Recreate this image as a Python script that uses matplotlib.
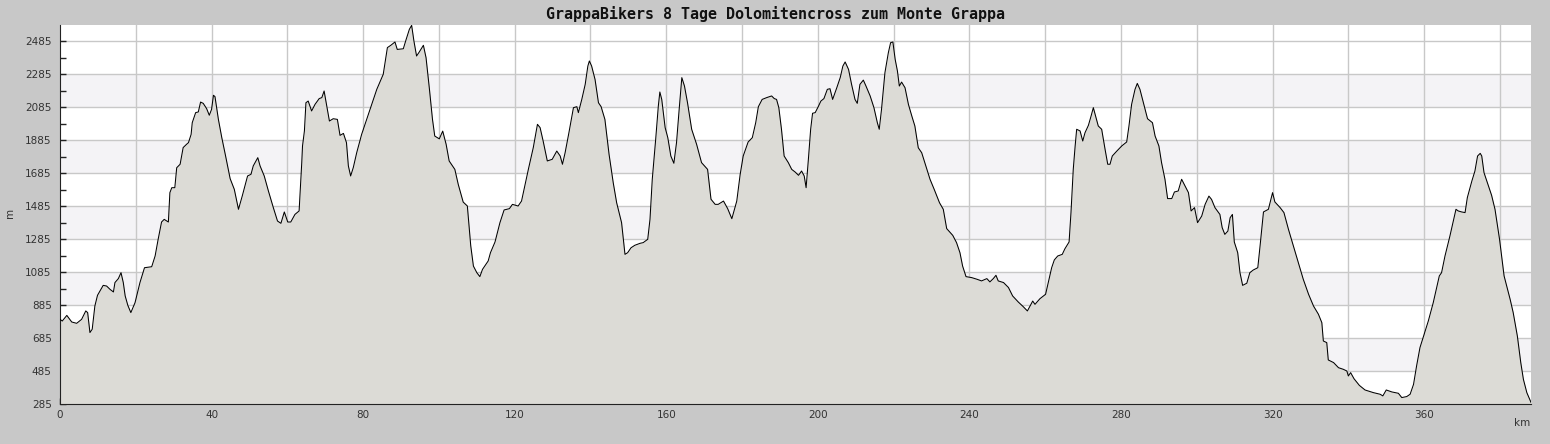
import matplotlib
matplotlib.use('Agg')
import matplotlib.pyplot as plt
from matplotlib.ticker import MultipleLocator

title = 'GrappaBikers 8 Tage Dolomitencross zum Monte Grappa'

# distance in km, altitude in m
km = [0.0, 0.6, 1.8, 3.1, 4.4, 5.7, 6.8, 7.3, 7.9, 8.5, 9.2, 9.9, 11.4, 12.3,
      13.2, 14.1, 14.5, 15.4, 16.1, 16.7, 17.2, 17.9, 18.7, 19.8, 21.1, 22.3,
      24.2, 25.1, 25.9, 26.8, 27.5, 28.6, 29.0, 29.5, 30.3, 30.8, 31.7, 32.5,
      33.4, 33.9, 34.6, 34.9, 35.8, 36.5, 37.1, 37.8, 38.7, 39.4, 40.0, 40.5,
      40.9, 41.8, 42.7, 43.7, 44.9, 46.0, 47.1, 48.1, 49.5, 50.4, 51.0, 52.2,
      52.8, 53.9, 55.0, 56.3, 57.4, 58.3, 59.2, 60.1, 60.9, 62.0, 63.1, 63.8,
      64.0, 64.5, 64.9, 65.5, 66.4, 67.3, 68.4, 69.1, 69.7, 70.4, 71.1, 72.1,
      73.2, 73.9, 74.8, 75.6, 76.1, 76.7, 77.4, 78.3, 79.6, 81.4, 83.6, 85.3,
      86.4, 87.3, 88.4, 89.0, 90.6, 91.3, 92.2, 92.8, 93.4, 94.1, 94.8, 95.9,
      96.6, 97.5, 98.3, 98.9, 100.1, 101.0, 101.9, 102.7, 104.2, 105.1, 106.4,
      107.5, 108.4, 109.1, 110.0, 110.8, 111.5, 113.0, 113.6, 114.8, 116.1,
      117.2, 118.6, 119.4, 120.9, 121.8, 123.6, 124.9, 126.0, 126.7, 127.5,
      128.6, 129.9, 131.1, 132.0, 132.6, 133.3, 134.3, 135.5, 136.4, 136.8,
      137.7, 138.6, 139.3, 139.7, 140.3, 141.2, 142.1, 142.8, 143.8, 144.9,
      146.0, 146.9, 148.2, 149.1, 149.8, 150.7, 151.7, 153.1, 153.9, 155.1,
      155.7, 156.3, 157.2, 157.9, 158.3, 158.8, 159.7, 160.4, 161.2, 162.0,
      162.7, 163.4, 164.1, 164.8, 165.6, 166.7, 168.0, 169.3, 170.9, 171.8,
      172.9, 173.7, 175.1, 176.2, 177.3, 178.6, 179.5, 180.3, 181.6, 182.7,
      183.6, 184.3, 185.3, 186.5, 187.8, 188.5, 189.1, 189.7, 190.4, 191.1,
      192.2, 193.1, 194.0, 194.9, 195.7, 196.4, 196.9, 197.5, 198.1, 198.6,
      199.3, 200.1, 200.8, 201.6, 202.5, 203.2, 203.9, 205.0, 205.9, 206.6,
      207.2, 208.1, 208.9, 209.8, 210.4, 211.1, 212.0, 212.7, 213.8, 214.8,
      215.7, 216.2, 216.8, 217.7, 218.6, 219.2, 219.8, 220.4, 221.0, 221.5,
      222.1, 223.0, 223.9, 224.8, 225.6, 226.5, 227.4, 228.5, 229.6, 230.7,
      232.1, 233.1, 234.0, 235.6, 236.6, 237.5, 238.2, 239.1, 240.6, 242.0,
      243.2, 244.6, 245.4, 246.3, 247.0, 247.6, 249.0, 250.3, 251.4, 252.9,
      254.2, 255.3, 256.0, 256.7, 257.3, 258.6, 260.1, 260.8, 261.7, 262.4,
      263.3, 264.5, 265.2, 266.3, 266.8, 267.4, 267.9, 268.3, 269.2, 269.9,
      270.5, 271.4, 272.1, 272.7, 273.3, 274.0, 274.9, 275.8, 276.5, 277.1,
      277.7, 278.9, 280.2, 281.5, 282.1, 282.8, 283.7, 284.3, 285.0, 285.9,
      287.0, 288.3, 289.0, 290.0, 290.7, 291.6, 292.3, 293.4, 294.1, 295.1,
      296.0, 296.9, 297.8, 298.5, 299.4, 300.2, 301.3, 302.2, 303.2, 303.9,
      304.8, 306.1, 306.7, 307.4, 308.2, 308.8, 309.4, 309.9, 310.8, 311.4,
      312.1, 313.2, 314.0, 314.9, 316.1, 316.7, 317.6, 318.9, 320.0, 320.6,
      322.0, 323.0, 324.2, 325.5, 326.8, 328.1, 329.5, 330.8, 332.1, 333.0,
      333.4, 334.3, 334.7, 336.1, 337.4, 338.7, 339.6, 340.0, 340.6, 341.5,
      342.9, 344.4, 346.6, 348.4, 349.1, 350.0, 351.5, 353.2, 354.1, 355.4,
      356.3, 357.2, 358.0, 358.9, 360.0, 361.1, 362.4, 364.0, 364.6, 365.5,
      366.8, 368.4, 369.0, 369.9, 370.8, 371.4, 372.6, 373.4, 374.1, 374.8,
      375.2, 375.8, 377.0, 377.8, 378.7, 379.9, 381.1, 382.7, 383.5, 384.6,
      385.5, 386.2, 387.1, 388.2]

alt = [798, 788, 822, 782, 774, 798, 849, 839, 718, 738, 879, 944, 1004, 1000,
       980, 964, 1021, 1045, 1081, 1021, 940, 883, 839, 899, 1021, 1111,
       1117, 1182, 1283, 1388, 1404, 1388, 1566, 1596, 1596, 1717, 1738, 1839,
       1859, 1869, 1919, 1990, 2051, 2055, 2115, 2107, 2075, 2035, 2071, 2156,
       2148, 2010, 1899, 1788, 1651, 1586, 1465, 1546, 1667, 1677, 1728, 1778,
       1728, 1667, 1576, 1475, 1394, 1380, 1449, 1388, 1388, 1434, 1455, 1748,
       1849, 1940, 2111, 2121, 2061, 2101, 2136, 2142, 2182, 2091, 2000, 2014,
       2010, 1913, 1925, 1869, 1728, 1667, 1718, 1808, 1919, 2041, 2192, 2283,
       2445, 2459, 2479, 2434, 2438, 2491, 2556, 2580, 2485, 2394, 2418, 2459,
       2384, 2192, 2010, 1909, 1892, 1939, 1859, 1758, 1707, 1616, 1509,
       1485, 1243, 1121, 1081, 1057, 1101, 1152, 1202, 1267, 1384,
       1461, 1469, 1495, 1485, 1515, 1707, 1839, 1980, 1960, 1879,
       1758, 1768, 1818, 1788, 1738, 1808, 1929, 2081, 2087, 2051,
       2131, 2222, 2333, 2364, 2333, 2252, 2111, 2087, 2010, 1798,
       1626, 1505, 1384, 1192, 1202, 1232, 1247, 1259, 1263, 1283,
       1404, 1647, 1889, 2091, 2176, 2131, 1960, 1899, 1788, 1744,
       1869, 2071, 2263, 2212, 2111, 1950, 1859, 1748, 1707, 1526,
       1495, 1495, 1515, 1469, 1408, 1515, 1677, 1788, 1873, 1899,
       1990, 2087, 2131, 2142, 2152, 2136, 2131, 2081, 1950, 1788,
       1748, 1707, 1691, 1671, 1697, 1667, 1596, 1768, 1950, 2047,
       2051, 2087, 2121, 2136, 2192, 2196, 2131, 2202, 2263, 2333,
       2358, 2313, 2222, 2131, 2107, 2222, 2248, 2212, 2152, 2081,
       1990, 1950, 2071, 2293, 2414, 2475, 2479, 2374, 2303, 2212,
       2236, 2202, 2101, 2030, 1970, 1838, 1808, 1727, 1647, 1586,
       1505, 1465, 1348, 1307, 1263, 1202, 1121, 1057, 1051, 1041,
       1031, 1045, 1025, 1045, 1065, 1031, 1021, 991, 940, 903,
       875, 849, 879, 909, 889, 923, 950, 1021, 1111, 1158,
       1182, 1192, 1226, 1267, 1445, 1707, 1849, 1950, 1940, 1879,
       1929, 1974, 2030, 2081, 2030, 1970, 1950, 1828, 1738, 1738,
       1788, 1818, 1849, 1873, 1970, 2101, 2192, 2228, 2192, 2111,
       2014, 1990, 1909, 1849, 1748, 1647, 1530, 1530, 1570, 1576,
       1647, 1606, 1566, 1455, 1475, 1384, 1424, 1495, 1545, 1525,
       1475, 1434, 1354, 1313, 1333, 1414, 1434, 1267, 1202, 1081,
       1004, 1017, 1081, 1097, 1111, 1243, 1449, 1465, 1566, 1510,
       1475, 1445, 1343, 1243, 1142, 1041, 950, 879, 829, 778,
       667, 657, 552, 536, 505, 495, 485, 455, 475, 438,
       398, 370, 354, 344, 334, 370, 358, 350, 324, 330,
       344, 404, 515, 627, 707, 788, 899, 1061, 1081, 1182,
       1303, 1465, 1455, 1449, 1445, 1536, 1637, 1697, 1788, 1804,
       1788, 1687, 1606, 1550, 1465, 1283, 1061, 919, 839, 697,
       536, 434, 354, 295]

y_ticks = list(range(285, 2486, 200))
x_ticks = list(range(0, 361, 40))
y_min, y_max = 285, 2582

fig = plt.figure(figsize=(15.5, 4.44), dpi=100, facecolor='#c8c8c8')
ax = fig.add_axes([60 / 1550, 1 - 404 / 444, 1471 / 1550, 379 / 444])
ax.set_facecolor('white')

# alternating bands between the labelled heights
for i, lo in enumerate(y_ticks[:-1]):
    if i % 2 == 1:
        ax.axhspan(lo, y_ticks[i + 1], color='#f4f3f6', zorder=0, lw=0)

for y in y_ticks[1:]:
    ax.axhline(y, color='#c8c8c8', lw=1, zorder=1)
for x in range(20, 390, 20):
    ax.axvline(x, color='#c8c8c8', lw=1, zorder=1)

ax.fill_between(km, alt, y_min, color='#dcdbd6', zorder=2, lw=0)
ax.plot(km, alt, color='black', lw=0.75, zorder=3)

ax.set_xlim(0, km[-1])
ax.set_ylim(y_min, y_max)
ax.set_xticks(x_ticks)
ax.set_yticks(y_ticks)
ax.xaxis.set_minor_locator(MultipleLocator(10))
ax.yaxis.set_minor_locator(MultipleLocator(100, offset=85))
ax.tick_params(which='both', direction='in', length=4, width=1,
               color='#222222', labelsize=7.5, labelcolor='#333333')
ax.tick_params(axis='y', pad=6)
ax.tick_params(axis='x', pad=4)
for side in ['top', 'right']:
    ax.spines[side].set_visible(False)
for side in ['left', 'bottom']:
    ax.spines[side].set_color('#222222')

fig.text(10 / 1550, 1 - 213 / 444, 'm', rotation=90, ha='center',
         va='center', fontsize=7.5, color='#333333')
fig.text(1530 / 1550, 1 - 423 / 444, 'km', ha='right', va='center',
         fontsize=7.5, color='#333333')
fig.text(0.5, 1 - 14 / 444, title, ha='center', va='center',
         family='DejaVu Sans Mono', fontweight='bold', fontsize=10.8,
         color='#111111')

fig.savefig('out.png', dpi=100, facecolor=fig.get_facecolor())
